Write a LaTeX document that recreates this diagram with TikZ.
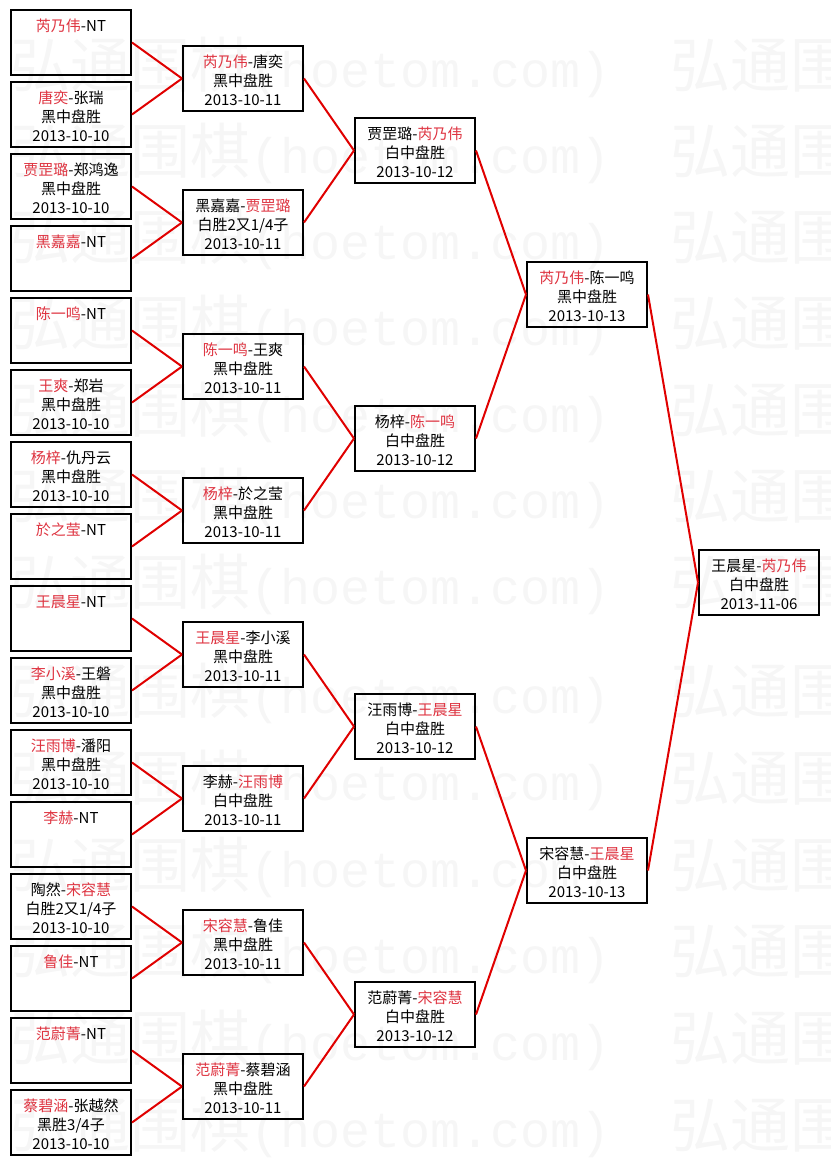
\documentclass[tikz,border=0pt]{standalone}
\usepackage{fontspec}
\setmainfont{Noto Sans CJK SC}
\newfontfamily\wmmono{Liberation Mono}
\definecolor{winred}{HTML}{DE3340}
\definecolor{wirered}{HTML}{E00000}
\newcommand\RB[2]{\textcolor{winred}{#1}-#2}
\newcommand\BR[2]{#1-\textcolor{winred}{#2}}
\newcommand\trio[3]{\rule{0pt}{16pt}#1\strut\\#2\strut\\#3\strut}
\begin{document}
\begin{tikzpicture}[x=0.75pt,y=-0.75pt,
  box/.style={draw=black, line width=1.5pt, minimum width=90pt, minimum height=47.25pt,
    inner sep=0pt, align=center, font=\fontsize{11.25pt}{14.25pt}\selectfont},
  wire/.style={draw=wirered, line width=1.5pt},
  wm/.style={anchor=west, inner sep=0pt, text=black!3.5, font=\fontsize{45pt}{45pt}\selectfont}]
\useasboundingbox (0,0) rectangle (831,1165);
% faint watermark
\begin{scope}
\clip (0,0) rectangle (831,1165);
\foreach \yy [count=\i] in {67,153,239,325,412,498,584,693,780,867,953,1040,1127}{
  \node[wm] (wma\i) at (10,\yy) {弘通围棋{\wmmono\fontsize{37.5pt}{40pt}\selectfont(hoetom.com)}};
  \node[wm] (wmb\i) at (670,\yy) {弘通围棋{\wmmono\fontsize{37.5pt}{40pt}\selectfont(hoetom.com)}};
}
\end{scope}
% round 1
\node[box] (a1)  at (71,42.5)   {\trio{\RB{芮乃伟}{NT}}{}{}};
\node[box] (a2)  at (71,114.5)  {\trio{\RB{唐奕}{张瑞}}{黑中盘胜}{2013-10-10}};
\node[box] (a3)  at (71,186.5)  {\trio{\RB{贾罡璐}{郑鸿逸}}{黑中盘胜}{2013-10-10}};
\node[box] (a4)  at (71,258.5)  {\trio{\RB{黑嘉嘉}{NT}}{}{}};
\node[box] (a5)  at (71,330.5)  {\trio{\RB{陈一鸣}{NT}}{}{}};
\node[box] (a6)  at (71,402.5)  {\trio{\RB{王爽}{郑岩}}{黑中盘胜}{2013-10-10}};
\node[box] (a7)  at (71,474.5)  {\trio{\RB{杨梓}{仇丹云}}{黑中盘胜}{2013-10-10}};
\node[box] (a8)  at (71,546.5)  {\trio{\RB{於之莹}{NT}}{}{}};
\node[box] (a9)  at (71,618.5)  {\trio{\RB{王晨星}{NT}}{}{}};
\node[box] (a10) at (71,690.5)  {\trio{\RB{李小溪}{王磐}}{黑中盘胜}{2013-10-10}};
\node[box] (a11) at (71,762.5)  {\trio{\RB{汪雨博}{潘阳}}{黑中盘胜}{2013-10-10}};
\node[box] (a12) at (71,834.5)  {\trio{\RB{李赫}{NT}}{}{}};
\node[box] (a13) at (71,906.5)  {\trio{\BR{陶然}{宋容慧}}{白胜2又1/4子}{2013-10-10}};
\node[box] (a14) at (71,978.5)  {\trio{\RB{鲁佳}{NT}}{}{}};
\node[box] (a15) at (71,1050.5) {\trio{\RB{范蔚菁}{NT}}{}{}};
\node[box] (a16) at (71,1122.5) {\trio{\RB{蔡碧涵}{张越然}}{黑胜3/4子}{2013-10-10}};
% round 2
\node[box] (b1) at (243,78.5)   {\trio{\RB{芮乃伟}{唐奕}}{黑中盘胜}{2013-10-11}};
\node[box] (b2) at (243,222.5)  {\trio{\BR{黑嘉嘉}{贾罡璐}}{白胜2又1/4子}{2013-10-11}};
\node[box] (b3) at (243,366.5)  {\trio{\RB{陈一鸣}{王爽}}{黑中盘胜}{2013-10-11}};
\node[box] (b4) at (243,510.5)  {\trio{\RB{杨梓}{於之莹}}{黑中盘胜}{2013-10-11}};
\node[box] (b5) at (243,654.5)  {\trio{\RB{王晨星}{李小溪}}{黑中盘胜}{2013-10-11}};
\node[box] (b6) at (243,798.5)  {\trio{\BR{李赫}{汪雨博}}{白中盘胜}{2013-10-11}};
\node[box] (b7) at (243,942.5)  {\trio{\RB{宋容慧}{鲁佳}}{黑中盘胜}{2013-10-11}};
\node[box] (b8) at (243,1086.5) {\trio{\RB{范蔚菁}{蔡碧涵}}{黑中盘胜}{2013-10-11}};
% round 3
\node[box] (c1) at (415,150.5)  {\trio{\BR{贾罡璐}{芮乃伟}}{白中盘胜}{2013-10-12}};
\node[box] (c2) at (415,438.5)  {\trio{\BR{杨梓}{陈一鸣}}{白中盘胜}{2013-10-12}};
\node[box] (c3) at (415,726.5)  {\trio{\BR{汪雨博}{王晨星}}{白中盘胜}{2013-10-12}};
\node[box] (c4) at (415,1014.5) {\trio{\BR{范蔚菁}{宋容慧}}{白中盘胜}{2013-10-12}};
% round 4
\node[box] (d1) at (587,294.5)  {\trio{\RB{芮乃伟}{陈一鸣}}{黑中盘胜}{2013-10-13}};
\node[box] (d2) at (587,870.5)  {\trio{\BR{宋容慧}{王晨星}}{白中盘胜}{2013-10-13}};
% final
\node[box] (e1) at (759,582.5)  {\trio{\BR{王晨星}{芮乃伟}}{白中盘胜}{2013-11-06}};
% connectors
\foreach \s/\t in {a1/b1,a2/b1,a3/b2,a4/b2,a5/b3,a6/b3,a7/b4,a8/b4,
                   a9/b5,a10/b5,a11/b6,a12/b6,a13/b7,a14/b7,a15/b8,a16/b8,
                   b1/c1,b2/c1,b3/c2,b4/c2,b5/c3,b6/c3,b7/c4,b8/c4,
                   c1/d1,c2/d1,c3/d2,c4/d2,d1/e1,d2/e1}
  \draw[wire] (\s.east) -- (\t.west);
\end{tikzpicture}
\end{document}
